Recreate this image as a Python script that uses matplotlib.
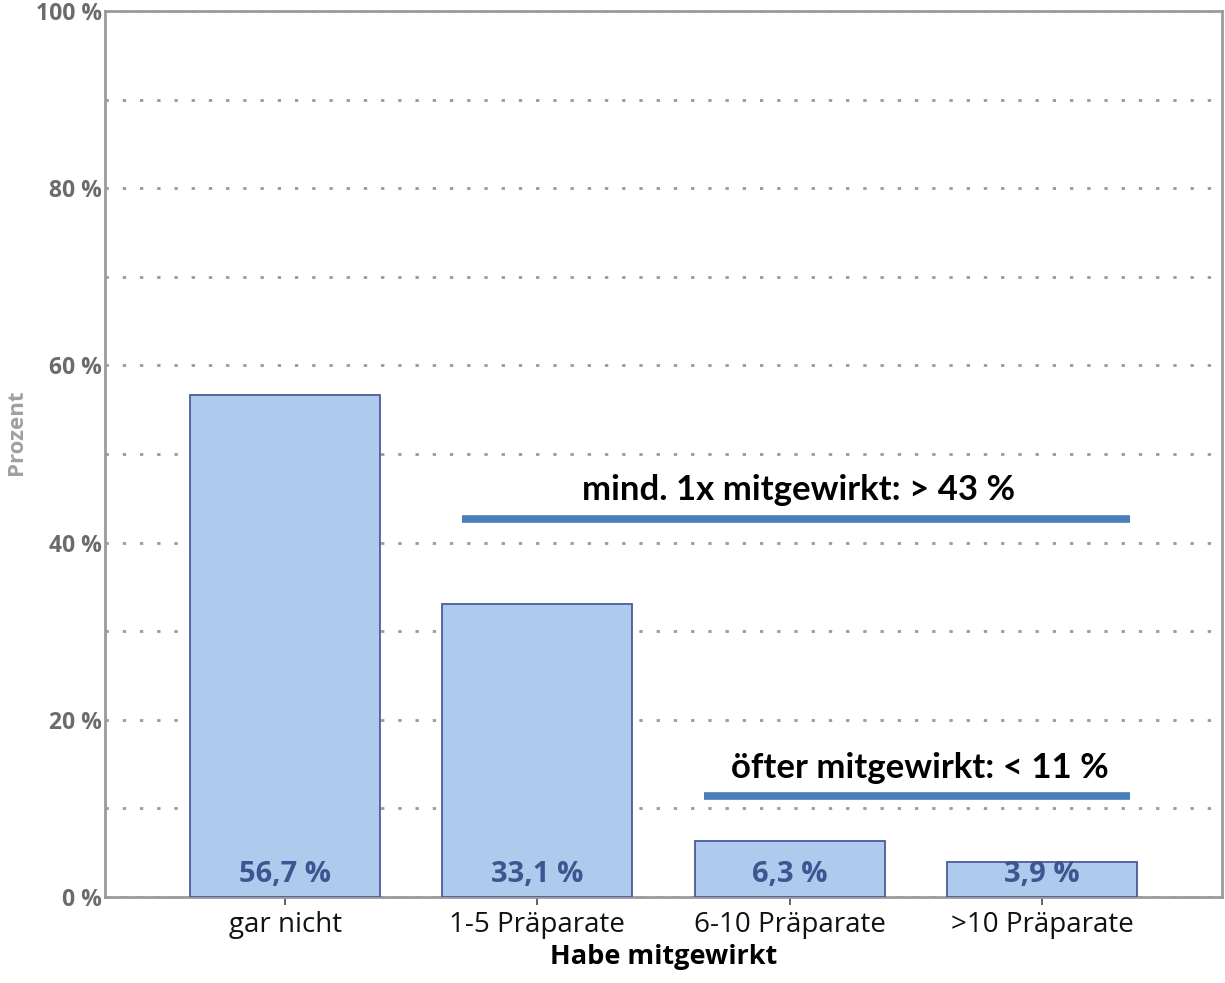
import matplotlib
matplotlib.use("Agg")
import matplotlib.pyplot as plt
from matplotlib.ticker import MultipleLocator, FuncFormatter

categories = ["gar nicht", "1-5 Präparate", "6-10 Präparate", ">10 Präparate"]
values = [56.7, 33.1, 6.3, 3.9]
value_labels = ["56,7 %", "33,1 %", "6,3 %", "3,9 %"]
bracket_texts = ["mind. 1x mitgewirkt: > 43 %", "öfter mitgewirkt: < 11 %"]
bracket_levels = [42.7, 11.4]
bracket_starts = [0.7, 1.66]
bracket_end = 3.35

fig = plt.figure(figsize=(12.25, 9.83), dpi=100)
ax = fig.add_axes([105/1225, 86/983, (1222-105)/1225, (897-11)/983])

x = list(range(len(categories)))
ax.bar(x, values, width=0.754, color="#aecbee", edgecolor="#4b5b9c", linewidth=1.3, zorder=3)

for xi, lab in zip(x, value_labels):
    ax.text(xi, 0.9, lab, ha="center", va="bottom", fontsize=21, fontweight="bold",
            color="#3f5591", family="Open Sans", zorder=4)

for txt, lvl, xs in zip(bracket_texts, bracket_levels, bracket_starts):
    ax.plot([xs, bracket_end], [lvl, lvl], color="#4a7ebb", linewidth=5.5, solid_capstyle="butt", zorder=4)
    ax.text((xs + bracket_end) / 2 + 0.01, lvl + 1.4, txt, ha="center", va="bottom", fontsize=25,
            fontweight="bold", color="black", family="Lato", zorder=4)

ax.set_xlim(-0.714, 3.714)
ax.set_ylim(0, 100)
ax.yaxis.set_major_locator(MultipleLocator(20))
ax.yaxis.set_minor_locator(MultipleLocator(10))
ax.yaxis.set_major_formatter(FuncFormatter(lambda v, p: f"{int(v)} %"))
ax.grid(axis="y", which="both", linestyle=(0, (1.2, 5)), color="#999999", linewidth=2, zorder=0)
ax.set_xticks(x)
ax.set_xticklabels(categories, fontsize=20, family="Open Sans", color="#111111")
ax.tick_params(axis="x", length=6, width=1.3, color="#555555", pad=4)
ax.tick_params(axis="y", which="both", length=0, pad=2, labelsize=16.5, labelcolor="#6b6b6b")
for lab in ax.get_yticklabels():
    lab.set_fontweight("bold")
    lab.set_family("Open Sans")
for s in ax.spines.values():
    s.set_color("#9a9a9a")
    s.set_linewidth(2)

ax.set_xlabel("Habe mitgewirkt", fontsize=19.5, fontweight="bold", family="Open Sans", labelpad=4)
fig.text(16/1225, 1 - 432/983, "Prozent", rotation=90, ha="center", va="center",
         fontsize=16, fontweight="bold", family="Open Sans", color="#a0a0a0")

fig.savefig("out.png", dpi=100)
